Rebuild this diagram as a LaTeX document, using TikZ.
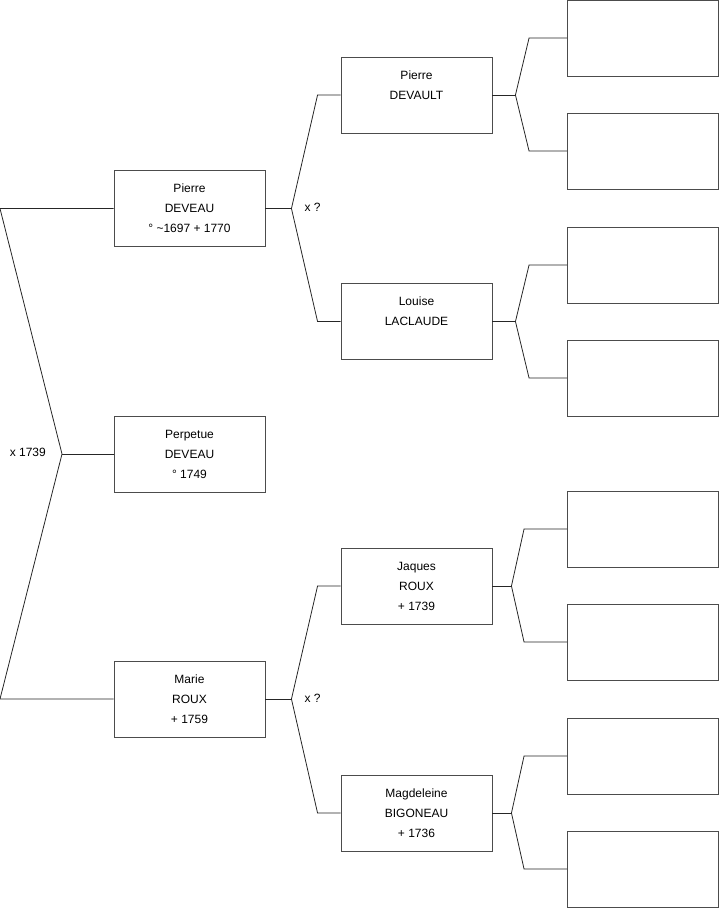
\documentclass[tikz,border=0pt]{standalone}
\usepackage{fontspec}
\setmainfont{Liberation Sans}
\usepackage{tikz}
\usetikzlibrary{positioning, calc}

\begin{document}
\begin{tikzpicture}[x=1pt, y=-1pt,
    person/.style={draw=black!70, line width=0.9pt, minimum width=151pt, minimum height=76pt,
      inner sep=0pt, align=center, font=\fontsize{12pt}{20pt}\selectfont},
    link/.style={draw=black!85, line width=0.8pt},
    note/.style={font=\fontsize{12pt}{14pt}\selectfont, inner sep=0pt}]
  \useasboundingbox (0,0) rectangle (719,908);
  % generation 1
  \node[person] (pierre) at (189.5,208.5) {Pierre\\DEVEAU\\° \textasciitilde1697 + 1770};
  \node[person] (perpetue) at (189.5,454) {Perpetue\\DEVEAU\\° 1749};
  \node[person] (marie) at (189.5,699) {Marie\\ROUX\\+ 1759};
  % generation 2
  \node[person] (devault) at (416.5,95) {Pierre\\DEVAULT\\\mbox{}};
  \node[person] (louise) at (416.5,321.5) {Louise\\LACLAUDE\\\mbox{}};
  \node[person] (jaques) at (416.5,586) {Jaques\\ROUX\\+ 1739};
  \node[person] (magdeleine) at (416.5,813) {Magdeleine\\BIGONEAU\\+ 1736};
  % generation 3 (empty)
  \foreach \i/\y in {1/38, 2/151, 3/265, 4/378, 5/529, 6/642, 7/756, 8/869} {
    \node[person] (g\i) at (643,\y) {};
  }
  % forks
  \coordinate (top) at (0,208.5);
  \coordinate (bot) at (0,699);
  \coordinate (v0) at (62,454);
  \draw[link] (pierre.west) -- (top) -- (v0) -- (bot) -- (marie.west);
  \draw[link] (v0) -- (perpetue.west);
  \node[note, anchor=east] (x0) at ($(v0)+(-16,-2)$) {x 1739};

  \coordinate (v1) at ($(pierre.east)+(26,0)$);
  \draw[link] (pierre.east) -- (v1);
  \draw[link] (devault.west) -- ++(-23,0) -- (v1) -- ($(louise.west)+(-23,0)$) -- (louise.west);
  \node[note, anchor=west] (x1) at ($(v1)+(13,-1)$) {x ?};

  \coordinate (v2) at ($(marie.east)+(26,0)$);
  \draw[link] (marie.east) -- (v2);
  \draw[link] (jaques.west) -- ++(-23,0) -- (v2) -- ($(magdeleine.west)+(-23,0)$) -- (magdeleine.west);
  \node[note, anchor=west] (x2) at ($(v2)+(13,-1)$) {x ?};

  \foreach \p/\a/\b/\s/\c in {devault/g1/g2/23/38, louise/g3/g4/23/38, jaques/g5/g6/19/43, magdeleine/g7/g8/19/43} {
    \coordinate (w) at ($(\p.east)+(\s,0)$);
    \draw[link] (\p.east) -- (w);
    \draw[link] (\a.west) -- ++(-\c,0) -- (w) -- ($(\b.west)+(-\c,0)$) -- (\b.west);
  }
\end{tikzpicture}
\end{document}
